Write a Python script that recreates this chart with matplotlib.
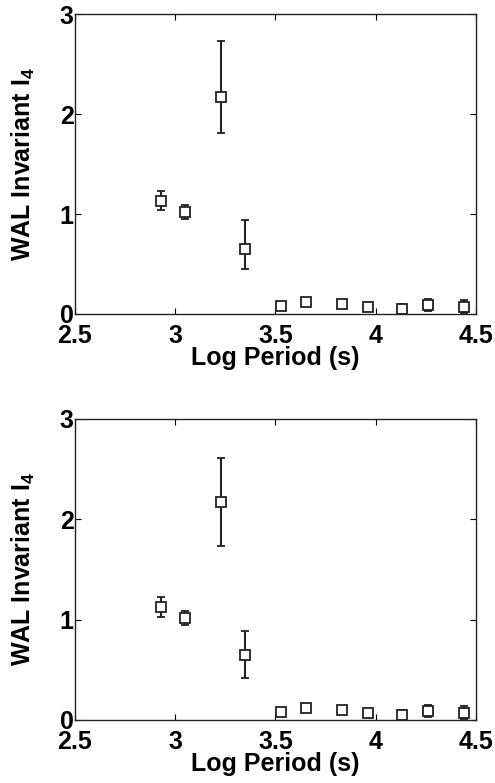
import matplotlib
matplotlib.use('Agg')
import matplotlib.pyplot as plt

plt.rcParams['font.family'] = ['Liberation Sans', 'DejaVu Sans']
plt.rcParams['font.weight'] = 'bold'
plt.rcParams['mathtext.fontset'] = 'custom'
plt.rcParams['mathtext.rm'] = 'Liberation Sans:bold'
plt.rcParams['mathtext.it'] = 'Liberation Sans:bold'
plt.rcParams['mathtext.bf'] = 'Liberation Sans:bold'

# log period values (same for both panels)
log_period = [2.93, 3.05, 3.23, 3.35, 3.53, 3.65, 3.83, 3.96, 4.13, 4.26, 4.44]

# top panel
top_i4 = [1.13, 1.02, 2.17, 0.65, 0.075, 0.12, 0.10, 0.07, 0.05, 0.085, 0.073]
top_err_lo = [0.09, 0.065, 0.36, 0.20, 0.02, 0.02, 0.02, 0.02, 0.045, 0.055, 0.06]
top_err_hi = [0.10, 0.075, 0.56, 0.29, 0.02, 0.02, 0.02, 0.02, 0.045, 0.06, 0.065]

# bottom panel
bot_i4 = [1.13, 1.02, 2.17, 0.65, 0.075, 0.12, 0.10, 0.07, 0.05, 0.085, 0.073]
bot_err_lo = [0.10, 0.07, 0.44, 0.23, 0.02, 0.02, 0.02, 0.02, 0.045, 0.055, 0.06]
bot_err_hi = [0.10, 0.07, 0.44, 0.24, 0.02, 0.02, 0.02, 0.02, 0.045, 0.06, 0.065]

fig = plt.figure(figsize=(4.95, 7.83), dpi=100)
ax1 = fig.add_axes([0.1515, 0.599, 0.81, 0.383])
ax2 = fig.add_axes([0.1515, 0.0805, 0.81, 0.3844])


def draw(ax, y, lo, hi):
    ax.errorbar(log_period, y, yerr=[lo, hi], fmt='s', mfc='white', mec='#222222',
                ms=7, mew=1.3, ecolor='#222222', elinewidth=1.5, capsize=3, capthick=1.5)
    ax.set_xlim(2.5, 4.5)
    ax.set_ylim(0, 3)
    ax.set_xticks([2.5, 3, 3.5, 4, 4.5])
    ax.set_xticklabels(['2.5', '3', '3.5', '4', '4.5'])
    ax.set_yticks([0, 1, 2, 3])
    ax.tick_params(direction='in', top=True, right=True, length=4, width=0.8,
                   labelsize=18)
    ax.tick_params(axis='x', pad=7)
    ax.tick_params(axis='y', pad=1)
    for s in ax.spines.values():
        s.set_linewidth(1.0)
        s.set_color('#222222')
    ax.set_xlabel('Log Period (s)', fontsize=18, fontweight='bold', labelpad=-1)
    ax.set_ylabel(r'WAL Invariant I$_4$', fontsize=18, fontweight='bold', labelpad=16)


draw(ax1, top_i4, top_err_lo, top_err_hi)
draw(ax2, bot_i4, bot_err_lo, bot_err_hi)

fig.savefig('out.png', dpi=100)
